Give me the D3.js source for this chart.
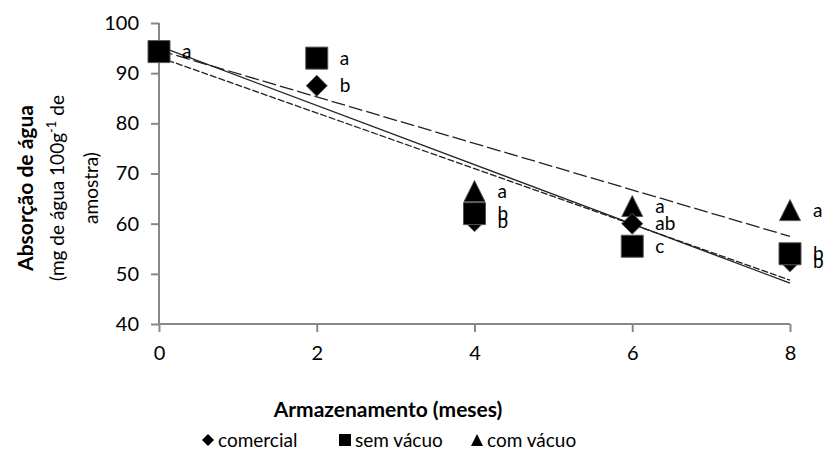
<!DOCTYPE html>
<html>
<head>
<meta charset="utf-8">
<script src="https://cdn.jsdelivr.net/npm/d3@7"></script>
<style>
  body { margin: 0; background: #fff; }
  text { font-family: Lato, "Open Sans", sans-serif; fill: #000; }
</style>
</head>
<body>
<div id="viz"></div>
<script>
'use strict';

// months of storage
var months = [0, 2, 4, 6, 8];
var comercial = [94.3, 87.5, 60.5, 60, 52.5];
var semVacuo = [94.3, 93, 62, 55.5, 54];
var comVacuo = [94.3, 93, 66.5, 63.5, 62.7];
// letters of the statistical test
var comercialLetters = ["", "b", "b", "ab", "b"];
var semVacuoLetters = ["a", "a", "b", "c", "b"];
var comVacuoLetters = ["", "", "a", "a", "a"];
var yTicks = [40, 50, 60, 70, 80, 90, 100];
var xTicks = [0, 2, 4, 6, 8];

var series = [
  {name: "comercial", values: comercial, letters: comercialLetters, shape: "diamond", dash: "7,2", z: 1},
  {name: "sem vácuo", values: semVacuo, letters: semVacuoLetters, shape: "square", dash: null, z: 2},
  {name: "com vácuo", values: comVacuo, letters: comVacuoLetters, shape: "triangle", dash: "14,4", z: 0}
];

var W = 825, H = 450;
var x = d3.scaleLinear().domain([0, 8]).range([159, 790]);
var y = d3.scaleLinear().domain([40, 100]).range([324, 23]);

var svg = d3.select("#viz").append("svg")
    .attr("width", W)
    .attr("height", H);

function shapePath(shape, s) {
  var h = s / 2;
  if (shape === "square") return "M" + (-h) + "," + (-h) + "h" + s + "v" + s + "h" + (-s) + "Z";
  if (shape === "diamond") return "M0," + (-h) + "L" + h + ",0L0," + h + "L" + (-h) + ",0Z";
  return "M0," + (-h) + "L" + h + "," + h + "L" + (-h) + "," + h + "Z";
}
function shapeSize(shape) {
  return shape === "square" ? 22 : 21;
}

// axes
var yAxis = svg.append("g")
    .attr("transform", "translate(" + x(0) + ",0)")
    .call(d3.axisLeft(y).tickValues(yTicks).tickSize(8).tickPadding(12));
var xAxis = svg.append("g")
    .attr("transform", "translate(0," + y(40) + ")")
    .call(d3.axisBottom(x).tickValues(xTicks).tickSize(8).tickPadding(14));
[yAxis, xAxis].forEach(function(g) {
  g.selectAll("path, line").attr("stroke", "#888").attr("stroke-width", 2);
  g.selectAll("text").style("font-size", "20px").attr("fill", "#000");
});
yAxis.select(".domain").attr("d", "M0," + y(100) + "V" + y(40));
xAxis.select(".domain").attr("d", "M" + x(0) + ",0H" + x(8));

// linear trendlines
function fit(vals) {
  var mx = d3.mean(months), my = d3.mean(vals);
  var num = d3.sum(months, function(m, i) { return (m - mx) * (vals[i] - my); });
  var den = d3.sum(months, function(m) { return (m - mx) * (m - mx); });
  var b = num / den;
  return {a: my - b * mx, b: b};
}
series.forEach(function(s) {
  var f = fit(s.values);
  svg.append("line")
      .attr("x1", x(0)).attr("y1", y(f.a))
      .attr("x2", x(8)).attr("y2", y(f.a + f.b * 8))
      .attr("stroke", "#222")
      .attr("stroke-width", 1.3)
      .attr("stroke-dasharray", s.dash);
});

// markers (triangles underneath, squares on top)
series.slice().sort(function(a, b) { return a.z - b.z; }).forEach(function(s) {
  svg.append("g").selectAll("path")
      .data(s.values)
    .enter().append("path")
      .attr("transform", function(d, i) { return "translate(" + x(months[i]) + "," + y(d) + ")"; })
      .attr("d", shapePath(s.shape, shapeSize(s.shape)))
      .attr("fill", "#000")
      .attr("stroke", "#555")
      .attr("stroke-width", 1);
});

// letters
series.forEach(function(s) {
  svg.append("g").selectAll("text")
      .data(s.values)
    .enter().append("text")
      .attr("x", function(d, i) { return x(months[i]) + 23; })
      .attr("y", function(d) { return y(d); })
      .attr("dy", "0.35em")
      .style("font-size", "19px")
      .text(function(d, i) { return s.letters[i]; });
});

// axis titles
var yt = svg.append("text")
    .attr("transform", "translate(0,188) rotate(-90)")
    .attr("text-anchor", "middle");
yt.append("tspan").attr("x", 0).attr("y", 33)
    .style("font-size", "21px").style("font-weight", "bold")
    .text("Absorção de água");
var l2 = yt.append("tspan").attr("x", 0).attr("y", 64).style("font-size", "19px");
l2.append("tspan").text("(mg de água 100g");
l2.append("tspan").attr("baseline-shift", "super").style("font-size", "13px").text("-1");
l2.append("tspan").text(" de");
yt.append("tspan").attr("x", 0).attr("y", 98).style("font-size", "19px").text("amostra)");

svg.append("text")
    .attr("x", 388).attr("y", 417)
    .attr("text-anchor", "middle")
    .style("font-size", "21px").style("font-weight", "bold")
    .text("Armazenamento (meses)");

// legend
var legendX = [208, 345, 477];
var lg = svg.append("g").selectAll("g")
    .data(series)
  .enter().append("g")
    .attr("transform", function(d, i) { return "translate(" + legendX[i] + ",440)"; });
lg.append("path")
    .attr("d", function(d) { return shapePath(d.shape, 12); })
    .attr("fill", "#000");
lg.append("text")
    .attr("x", 10).attr("dy", "0.35em")
    .style("font-size", "19px")
    .text(function(d) { return d.name; });
</script>
</body>
</html>
